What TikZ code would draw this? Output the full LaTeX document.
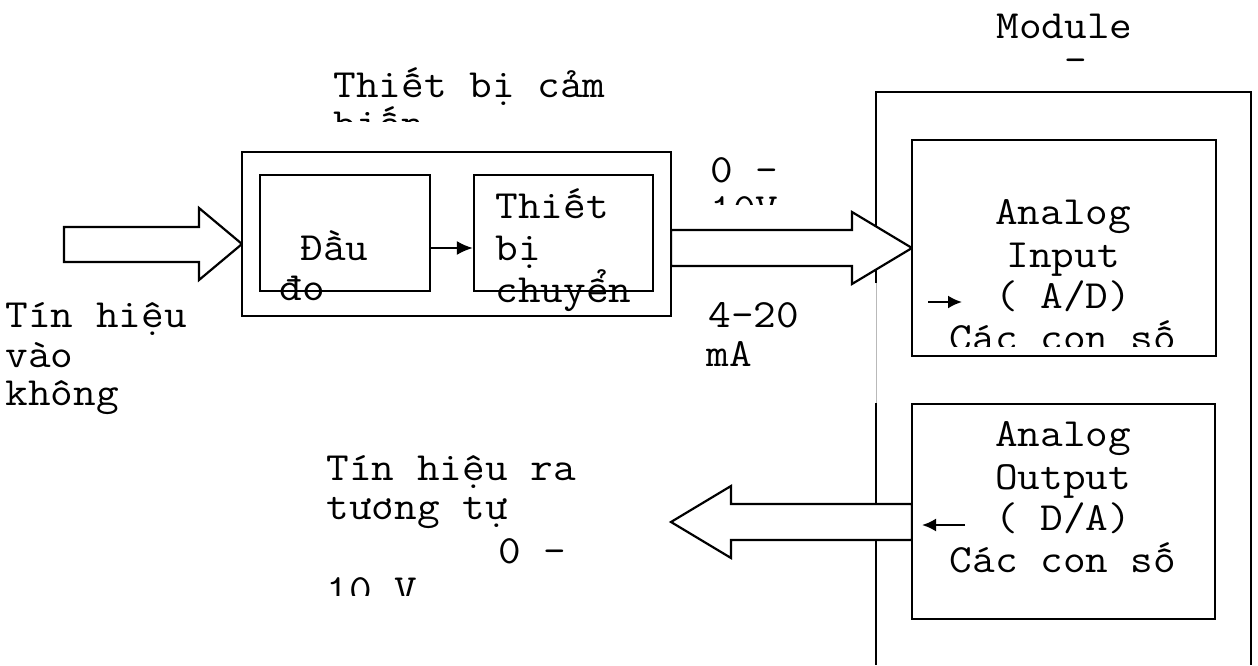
\documentclass[tikz,border=0pt]{standalone}
\usepackage{fontspec}
\usepackage{graphicx}
\usetikzlibrary{arrows.meta}
\newcommand{\diagfont}{\ttfamily\fontsize{20pt}{20pt}\selectfont}
\newcommand{\sx}[1]{\scalebox{1.1}[1]{#1}}
\begin{document}
\begin{tikzpicture}[x=0.5pt,y=-0.5pt,
  lw/.style={line width=1.1pt},
  box/.style={draw, line width=1.1pt, inner sep=0pt, fill=white},
  txt/.style={anchor=base west, inner sep=0pt, font=\diagfont},
  ctxt/.style={anchor=base, inner sep=0pt, font=\diagfont},
  bigarrow/.style={draw, line width=1.1pt, fill=white, line join=miter},
  smallarrow/.style={line width=1.1pt, -{Latex[length=8pt,width=7pt]}},
  modarrow/.style={line width=1.1pt, -{Latex[length=7pt,width=6.5pt]}},
]
\useasboundingbox (0,0) rectangle (1258,665);

% module frame
\coordinate (m1) at (876,283);
\coordinate (m2) at (876,92);
\coordinate (m3) at (1251,92);
\coordinate (m4) at (1251,665);
\coordinate (m5) at (876,403);
\coordinate (m6) at (876,665);
\draw[lw] (m1) -- (m2) -- (m3) -- (m4);
\draw[gray!55, line width=0.5pt] (m1) -- (m5);
\draw[lw] (m5) -- (m6);

% big arrows
\draw[bigarrow] (64,227) -- (199,227) -- (199,208) -- (242,244) -- (199,280) -- (199,262) -- (64,262) -- cycle;
\draw[bigarrow] (671,230) -- (852,230) -- (852,212) -- (912,248) -- (852,284) -- (852,266) -- (671,266) -- cycle;
\draw[bigarrow] (912,504) -- (731,504) -- (731,486) -- (671,522) -- (731,558) -- (731,540) -- (912,540) -- cycle;

% boxes
\node[box, minimum width=214.5pt, minimum height=82pt] (sensor) at (456.5,234) {};
\node[box, minimum width=85pt, minimum height=58pt] (dau) at (345,233) {};
\node[box, minimum width=89.5pt, minimum height=58pt] (tb) at (563.5,233) {};
\node[box, minimum width=152pt, minimum height=108pt] (ain) at (1064,248) {};
\node[box, minimum width=151.5pt, minimum height=107.5pt] (aout) at (1063.5,511.5) {};

% small arrows
\coordinate (ab) at (0,248);
\draw[smallarrow] (dau.east |- ab) -- (tb.west |- ab);
\coordinate (ia1) at (928,302);
\coordinate (ia2) at (962,302);
\draw[modarrow] (ia1) -- (ia2);
\coordinate (oa1) at (965,525);
\coordinate (oa2) at (922,525);
\draw[modarrow] (oa1) -- (oa2);

% texts
\node[txt] (tmod) at (996,38) {\sx{Module}};
\node[txt] (tmod2) at (1064,72) {\sx{-}};
\node[txt] (tcam) at (333,97) {\sx{Thiết bị cảm}};
\begin{scope}
\clip (300,100) rectangle (660,121);
\node[txt] (tbien) at (333,136.5) {\sx{biến}};
\end{scope}
\node[txt] (t010) at (710,182) {\sx{0 –}};
\begin{scope}
\clip (700,186) rectangle (820,204);
\node[txt] (t10v) at (710,221.5) {\sx{10V}};
\end{scope}
\node[txt] (t420) at (708,327) {\sx{4-20}};
\node[txt] (tma) at (706,366) {\sx{mA}};
\node[txt] (tin1) at (5,327) {\sx{Tín hiệu}};
\node[txt] (tin2) at (5,367) {\sx{vào}};
\node[txt] (tin3) at (5,405) {\sx{không}};
\node[txt] (tout1) at (326,480) {\sx{Tín hiệu ra}};
\node[txt] (tout2) at (326,519) {\sx{tương tự}};
\node[txt] (tout3) at (498,563) {\sx{0 –}};
\begin{scope}
\clip (300,570) rectangle (660,595);
\node[txt] (tout4) at (326,602) {\sx{10 V}};
\end{scope}
\node[txt] (tdau1) at (300,260) {\sx{Đầu}};
\node[txt] (tdau2) at (279,300) {\sx{đo}};
\node[txt] (ttb1) at (495,218) {\sx{Thiết}};
\node[txt] (ttb2) at (495,260) {\sx{bị}};
\node[txt] (ttb3) at (495,302) {\sx{chuyển}};
\node[ctxt] (ai1) at (1063,224) {\sx{Analog}};
\node[ctxt] (ai2) at (1063,267) {\sx{Input}};
\node[ctxt] (ai3) at (1063,308) {\sx{( A/D)}};
\begin{scope}
\clip (920,300) rectangle (1210,346);
\node[ctxt] (ai4) at (1063,350) {\sx{Các con số}};
\end{scope}
\node[ctxt] (ao1) at (1063,446) {\sx{Analog}};
\node[ctxt] (ao2) at (1063,489) {\sx{Output}};
\node[ctxt] (ao3) at (1063,530) {\sx{( D/A)}};
\node[ctxt] (ao4) at (1063,572) {\sx{Các con số}};
\end{tikzpicture}
\end{document}
